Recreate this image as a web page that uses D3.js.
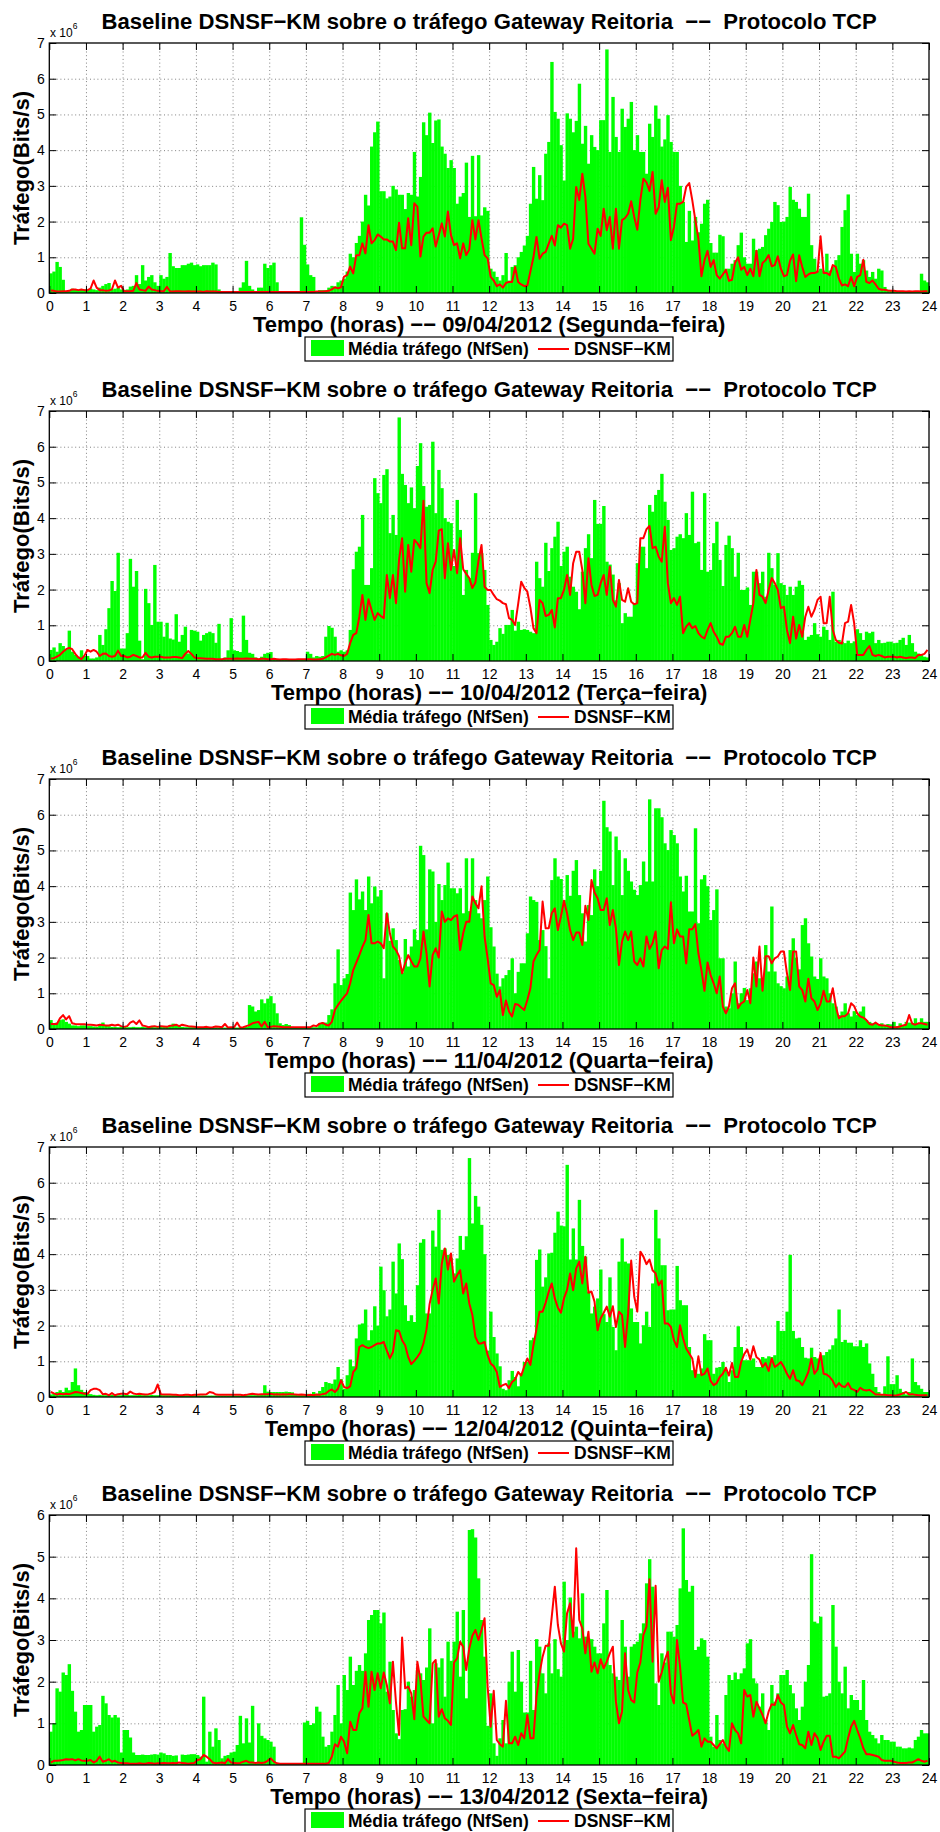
<!DOCTYPE html>
<html>
<head>
<meta charset="utf-8">
<script src="https://cdn.jsdelivr.net/npm/d3@7"></script>
<style>
  body { margin: 0; background: #fff; }
  svg { display: block; }
  text { font-family: "Liberation Sans", Arial, Helvetica, sans-serif; }
</style>
</head>
<body>
<svg id="chart"></svg>
<script>
// hour ticks and panel labels
const hourTicks = d3.range(0, 25);
const titleText = "Baseline DSNSF\u2212KM sobre o tr\u00e1fego Gateway Reitoria  \u2212\u2212  Protocolo TCP";
const dayLabels = [
  "09/04/2012 (Segunda\u2212feira)",
  "10/04/2012 (Ter\u00e7a\u2212feira)",
  "11/04/2012 (Quarta\u2212feira)",
  "12/04/2012 (Quinta\u2212feira)",
  "13/04/2012 (Sexta\u2212feira)"
];
const yMaxes = [7, 7, 7, 7, 6];  // in units of 10^6 bits/s

// NfSen average traffic, one value every 5 minutes (12 per hour), x 10^6
const bars1 = [
  0.55,0.6,0.87,0.73,0.37,0.05,0.08,0.12,0.1,0.08,0.1,0.1,
  0.1,0.12,0.1,0.08,0.15,0.2,0.25,0.28,0.1,0.12,0.15,0.1,
  0.08,0.1,0.18,0.2,0.5,0.25,0.78,0.35,0.45,0.5,0.3,0.2,
  0.5,0.4,0.45,1.12,0.75,0.7,0.7,0.78,0.78,0.82,0.85,0.78,
  0.8,0.75,0.78,0.78,0.78,0.85,0.8,0.1,0.02,0.02,0.02,0.02,
  0.02,0.02,0.15,0.3,0.9,0.2,0.1,0.05,0.15,0.15,0.82,0.7,
  0.78,0.85,0.3,0.02,0.02,0.02,0.02,0.02,0.02,0.02,2.12,1.35,
  0.8,0.5,0.45,0.02,0.08,0.08,0.08,0.15,0.2,0.18,0.3,0.35,
  0.4,0.6,1.1,1.0,1.4,1.6,2.0,2.75,2.45,4.1,4.5,4.8,
  2.85,2.85,2.65,2.7,3.0,2.9,2.75,2.75,2.35,2.8,2.75,3.95,
  2.7,3.25,4.78,4.42,5.05,4.2,4.83,4.86,4.1,3.9,3.5,3.72,
  3.5,2.5,2.7,2.8,3.65,2.13,3.84,2.15,3.86,2.17,2.4,2.3,
  0.68,0.6,0.45,0.35,0.5,1.12,0.35,0.73,0.78,1.0,1.15,1.33,
  1.6,2.5,3.53,2.64,3.3,2.6,3.9,4.23,6.47,5.07,4.88,4.14,
  3.15,5.03,4.88,4.5,4.82,5.86,4.18,4.68,3.62,4.42,4.09,4.0,
  4.84,4.84,6.82,3.95,5.49,4.37,3.95,5.16,4.65,4.88,5.35,4.0,
  4.42,3.95,3.95,3.34,4.74,4.37,5.25,4.88,4.1,4.3,4.98,4.23,
  3.95,3.95,3.0,2.55,1.43,2.3,1.47,2.13,1.7,1.94,2.5,2.61,
  1.4,1.13,1.13,1.63,1.59,0.68,0.68,0.82,0.92,1.34,1.69,1.0,
  0.82,0.82,1.52,1.2,1.24,1.29,1.62,1.8,1.99,2.55,2.46,1.99,
  2.0,2.13,2.97,2.61,2.55,2.36,2.13,2.13,2.78,1.34,0.96,0.63,
  0.68,0.63,1.1,0.63,0.73,0.92,1.06,1.85,2.32,2.76,1.1,0.59,
  1.1,0.82,0.92,0.63,0.45,0.59,0.4,0.68,0.63,0.17,0.09,0.06,
  0.05,0.05,0.05,0.05,0.04,0.04,0.04,0.04,0.05,0.54,0.35,0.3
];
const bars2 = [
  0.31,0.38,0.26,0.5,0.42,0.33,0.85,0.26,0.17,0.12,0.3,0.14,
  0.14,0.07,0.07,0.1,0.73,0.45,0.89,1.48,2.24,1.96,3.03,0.35,
  0.35,0.78,2.86,2.08,2.52,0.57,0.05,2.02,1.62,1.01,2.69,1.1,
  1.1,0.68,1.07,0.63,0.6,1.31,0.54,0.73,0.96,0.21,0.87,0.85,
  0.82,0.57,0.73,0.78,0.82,0.78,0.51,1.04,0.05,0.1,0.3,1.2,
  0.3,0.28,0.25,1.27,0.59,0.23,0.2,0.1,0.06,0.12,0.2,0.23,
  0.25,0.05,0.04,0.03,0.03,0.03,0.03,0.03,0.03,0.03,0.03,0.03,
  0.26,0.2,0.1,0.14,0.12,0.14,0.68,0.98,0.93,0.68,0.26,0.3,
  0.26,0.3,0.87,2.57,3.06,3.2,4.09,2.13,2.13,2.6,5.12,4.7,
  4.42,5.21,5.37,3.58,4.09,3.53,6.82,5.24,4.93,4.42,4.86,4.28,
  5.46,6.1,4.9,4.32,4.37,6.14,4.14,5.35,4.84,4.0,3.9,3.86,
  2.66,4.51,3.67,1.85,2.55,2.32,3.03,4.7,3.02,3.02,2.55,1.57,
  0.59,0.45,0.54,0.92,0.76,1.01,1.01,1.43,0.85,1.1,0.87,0.89,
  0.87,0.82,0.78,2.78,2.32,2.08,3.31,2.52,3.16,3.48,3.9,2.66,
  3.06,3.2,2.36,2.08,1.94,1.45,2.5,3.16,3.55,2.88,4.51,3.84,
  3.84,4.34,2.78,2.7,2.42,1.7,2.18,1.06,1.34,1.24,1.24,1.62,
  2.74,3.2,3.2,2.6,4.37,4.18,4.65,4.79,5.24,4.46,3.95,3.11,
  3.16,3.48,3.55,3.44,4.14,3.53,4.74,3.3,3.34,2.55,4.7,2.5,
  2.55,3.3,3.9,2.83,2.1,3.25,3.51,3.16,2.36,3.03,1.99,1.99,
  2.06,1.57,2.5,2.5,2.18,2.5,1.8,3.03,2.6,2.13,3.02,2.18,
  2.13,1.85,2.08,1.85,2.08,2.25,2.13,0.59,0.68,0.73,1.06,0.75,
  0.68,0.96,0.87,0.59,1.94,0.54,0.59,0.54,0.5,0.57,0.5,0.55,
  0.89,0.78,0.59,0.82,0.78,0.82,0.5,0.59,0.5,0.51,0.54,0.54,
  0.5,0.51,0.59,0.65,0.45,0.73,0.5,0.26,0.21,0.17,0.12,0.1
];
const bars3 = [
  0.25,0.12,0.18,0.25,0.27,0.2,0.15,0.1,0.1,0.08,0.1,0.1,
  0.08,0.08,0.07,0.06,0.12,0.18,0.1,0.08,0.06,0.06,0.05,0.06,
  0.06,0.05,0.05,0.06,0.05,0.05,0.06,0.05,0.05,0.06,0.05,0.05,
  0.06,0.07,0.08,0.1,0.15,0.12,0.08,0.06,0.05,0.05,0.05,0.05,
  0.04,0.04,0.04,0.04,0.04,0.04,0.04,0.04,0.04,0.04,0.04,0.04,
  0.04,0.04,0.04,0.04,0.06,0.67,0.63,0.49,0.53,0.83,0.72,0.85,
  0.92,0.72,0.44,0.16,0.11,0.14,0.11,0.06,0.05,0.05,0.05,0.05,
  0.05,0.05,0.05,0.05,0.16,0.18,0.18,0.39,0.55,1.28,2.23,1.23,
  1.42,1.54,3.82,3.33,4.19,3.63,3.85,3.33,4.27,3.52,3.99,3.71,
  3.89,1.42,3.24,2.47,2.82,2.49,1.93,1.58,2.52,1.75,2.31,2.79,
  2.49,5.13,4.87,2.79,4.47,4.41,3.0,4.06,3.61,4.03,4.66,3.94,
  3.94,3.8,3.94,3.24,4.78,3.3,4.78,3.61,3.24,3.1,3.61,4.27,
  2.85,2.31,1.55,1.19,1.42,1.51,1.65,1.98,1.0,1.6,1.84,1.84,
  2.68,3.71,3.61,3.56,2.49,2.77,2.32,1.42,4.17,4.78,4.27,4.2,
  3.61,4.31,3.73,4.43,4.73,3.75,3.24,2.45,3.47,3.19,4.47,4.0,
  4.43,6.39,5.65,5.53,4.03,5.39,5.01,3.75,4.78,4.43,4.13,3.9,
  3.75,4.03,4.69,4.13,6.43,4.13,6.18,6.18,5.93,5.2,5.01,5.57,
  5.43,5.2,4.27,3.85,4.29,3.29,3.29,5.62,2.96,4.19,4.31,4.0,
  3.05,3.33,3.91,1.98,1.98,0.63,0.58,1.0,1.89,0.72,1.0,1.15,
  0.81,1.14,1.56,1.89,1.42,1.3,2.35,1.61,3.43,1.61,1.28,1.2,
  1.14,1.47,2.21,2.54,2.0,1.67,2.91,3.1,2.4,2.03,1.47,1.4,
  1.98,1.47,1.42,1.0,0.72,0.63,0.39,0.49,0.72,0.44,0.35,0.5,
  0.39,0.49,0.63,0.25,0.2,0.16,0.14,0.11,0.16,0.11,0.14,0.13,
  0.2,0.08,0.16,0.11,0.2,0.18,0.16,0.3,0.16,0.3,0.2,0.2
];
const bars4 = [
  0.07,0.09,0.14,0.19,0.14,0.26,0.19,0.42,0.8,0.33,0.2,0.14,
  0.1,0.08,0.06,0.05,0.06,0.05,0.05,0.06,0.06,0.05,0.05,0.05,
  0.06,0.06,0.05,0.05,0.05,0.06,0.05,0.05,0.05,0.06,0.05,0.05,
  0.06,0.05,0.05,0.05,0.05,0.05,0.05,0.06,0.05,0.05,0.05,0.05,
  0.04,0.04,0.04,0.04,0.04,0.04,0.04,0.04,0.04,0.04,0.04,0.04,
  0.04,0.04,0.04,0.04,0.05,0.05,0.05,0.05,0.05,0.06,0.33,0.15,
  0.14,0.14,0.14,0.14,0.14,0.15,0.14,0.13,0.07,0.05,0.05,0.05,
  0.09,0.07,0.14,0.09,0.17,0.28,0.42,0.39,0.37,0.49,0.84,0.5,
  0.23,0.61,1.05,0.86,1.64,2.03,2.06,2.45,1.59,1.87,2.54,2.0,
  3.65,2.99,2.26,2.45,3.79,2.9,4.3,3.86,2.57,2.13,2.29,2.1,
  3.13,4.32,4.42,2.34,2.34,4.66,4.21,5.24,4.12,4.16,3.98,3.9,
  3.46,3.88,4.51,4.12,4.5,6.69,4.86,5.63,5.33,4.82,4.0,1.3,
  2.39,1.68,1.22,0.86,0.23,0.19,0.47,0.73,0.56,0.3,0.65,0.98,
  0.98,1.59,1.66,3.84,4.13,3.09,3.35,4.02,4.04,4.6,5.19,4.8,
  4.78,6.5,3.85,4.72,3.85,5.52,4.23,3.93,2.95,2.34,2.53,2.76,
  3.57,2.32,2.1,3.35,1.96,1.31,3.79,4.44,3.79,3.74,2.48,2.1,
  2.1,1.5,2.01,2.39,1.96,3.18,5.24,4.44,3.69,3.69,2.43,2.45,
  2.45,3.67,2.71,2.57,2.57,1.4,0.75,0.75,0.65,0.8,1.76,1.59,
  1.59,0.65,0.82,0.84,0.98,0.75,0.42,0.75,1.4,1.98,1.4,1.03,
  1.03,1.03,1.08,0.84,0.84,1.12,1.08,1.14,1.12,1.17,2.13,1.85,
  1.85,2.39,3.98,1.85,1.64,1.66,1.4,1.1,1.08,1.38,1.12,1.08,
  1.08,1.17,1.26,1.33,1.45,1.64,2.45,1.54,1.6,1.52,1.52,1.42,
  1.42,1.59,1.4,1.5,0.94,0.65,0.28,0.14,0.07,0.3,1.14,0.36,
  0.36,0.61,0.23,0.14,0.07,0.14,1.08,0.42,0.33,0.23,0.14,0.14
];
const bars5 = [
  0.8,1.0,1.84,1.76,2.22,2.16,2.42,1.78,1.28,0.8,0.84,1.44,
  1.44,1.44,0.8,0.92,0.96,1.66,1.48,1.2,1.14,1.2,1.14,0.3,
  0.84,0.84,0.66,0.3,0.24,0.24,0.25,0.24,0.24,0.25,0.26,0.25,
  0.3,0.28,0.24,0.24,0.22,0.23,0.03,0.25,0.24,0.25,0.26,0.26,
  0.24,0.2,1.64,0.08,0.8,0.44,0.88,0.6,0.16,0.22,0.24,0.3,
  0.32,0.48,1.18,0.52,1.12,0.54,1.42,0.04,1.0,0.7,0.64,0.6,
  0.56,0.44,0.03,0.02,0.02,0.02,0.02,0.02,0.02,0.02,0.02,1.02,
  1.06,0.96,1.0,1.4,1.28,0.68,0.44,0.48,0.8,1.2,1.92,1.0,
  2.16,1.8,2.6,1.92,2.26,2.4,2.26,2.68,3.48,3.6,3.72,3.72,
  3.4,3.66,1.76,2.48,1.32,0.76,0.62,1.32,1.34,2.0,1.64,1.8,
  2.28,2.2,2.04,2.34,3.28,1.0,2.44,2.34,2.56,1.64,2.96,2.5,
  2.96,3.68,2.12,3.72,1.6,5.64,5.66,5.46,4.48,3.48,2.6,0.94,
  1.72,0.52,0.22,0.64,1.08,0.52,2.0,2.72,1.76,2.76,2.0,1.26,
  1.26,2.5,1.32,3.02,2.84,2.2,1.72,2.92,2.2,3.02,2.3,2.12,
  4.4,3.0,4.02,3.2,3.32,3.04,4.12,3.08,3.04,3.02,2.84,2.68,
  2.68,3.4,4.2,2.4,2.2,2.12,2.04,3.48,2.84,2.12,2.84,2.9,
  2.96,3.16,3.4,4.36,4.94,4.28,1.96,1.44,2.68,2.46,3.2,3.2,
  3.08,3.36,4.24,5.68,4.44,4.16,4.3,2.76,2.84,3.04,3.0,2.6,
  0.68,0.44,1.2,0.6,0.52,1.68,2.16,2.04,2.22,2.06,2.2,2.32,
  2.92,3.02,2.08,1.96,1.4,1.72,1.08,0.84,1.92,1.52,1.72,2.16,
  2.16,2.28,1.92,1.72,1.36,1.08,1.4,2.0,2.4,5.06,3.44,3.4,
  3.56,1.64,1.66,1.72,3.84,2.84,2.0,1.72,2.36,1.36,1.68,1.56,
  1.56,1.32,2.04,1.08,0.8,0.72,0.64,0.52,0.72,0.6,0.6,0.56,
  0.56,0.44,0.44,0.4,0.4,0.42,0.4,0.6,0.68,0.84,0.76,0.76
];

// DSNSF-KM baseline, 12 points per hour, x 10^6
const dsnsf1 = [
  0.07,0.06,0.04,0.04,0.05,0.05,0.06,0.1,0.1,0.08,0.1,0.08,
  0.08,0.12,0.35,0.15,0.08,0.08,0.06,0.07,0.1,0.35,0.15,0.2,
  0.05,0.05,0.05,0.06,0.28,0.1,0.08,0.06,0.18,0.1,0.08,0.06,
  0.05,0.05,0.17,0.05,0.04,0.05,0.05,0.04,0.04,0.05,0.04,0.04,
  0.04,0.04,0.03,0.05,0.04,0.04,0.04,0.03,0.03,0.03,0.03,0.03,
  0.03,0.03,0.03,0.03,0.03,0.03,0.03,0.03,0.03,0.03,0.03,0.03,
  0.03,0.03,0.03,0.03,0.03,0.03,0.03,0.03,0.03,0.03,0.03,0.03,
  0.03,0.03,0.03,0.04,0.04,0.04,0.05,0.06,0.1,0.16,0.13,0.16,
  0.46,0.5,0.74,0.55,1.06,1.06,1.39,1.11,1.9,1.39,1.48,1.64,
  1.58,1.5,1.5,1.44,1.44,1.2,1.97,1.25,1.25,2.09,1.34,2.51,
  2.42,1.02,1.58,1.69,1.69,1.81,1.3,1.62,1.95,1.58,2.28,1.62,
  1.34,1.39,0.97,1.39,1.06,1.22,2.04,1.5,2.04,1.53,1.06,0.97,
  0.45,0.35,0.19,0.24,0.15,0.28,0.31,0.31,0.73,0.31,0.24,0.19,
  0.21,0.6,1.0,1.57,0.96,1.1,1.15,1.38,1.6,1.33,1.9,1.83,
  1.94,1.9,1.24,1.52,2.97,2.6,3.34,2.69,1.38,1.24,1.1,1.8,
  1.6,2.36,1.76,2.13,1.24,2.36,1.24,2.04,2.1,2.22,2.57,2.13,
  1.77,2.6,3.2,3.1,2.86,3.39,2.22,2.4,3.16,2.55,2.95,1.48,
  1.85,2.5,2.5,2.55,2.97,3.08,2.6,2.04,1.52,0.47,0.92,1.18,
  0.73,0.92,0.5,0.4,0.52,0.65,0.34,0.37,0.84,1.0,0.65,0.73,
  0.5,0.68,0.47,1.18,0.47,0.84,0.92,1.06,0.75,0.78,1.03,0.68,
  0.47,0.5,0.9,1.08,0.33,1.06,0.73,0.45,0.52,0.56,0.56,0.59,
  1.59,0.56,0.56,0.5,0.78,0.73,0.4,0.21,0.24,0.19,0.45,0.19,
  0.45,0.5,0.93,0.31,0.28,0.35,0.24,0.12,0.09,0.09,0.07,0.06,
  0.06,0.05,0.05,0.05,0.04,0.05,0.04,0.05,0.05,0.04,0.05,0.05
];
const dsnsf2 = [
  0.07,0.08,0.12,0.17,0.26,0.33,0.37,0.33,0.2,0.1,0.05,0.15,
  0.31,0.26,0.31,0.26,0.14,0.2,0.21,0.14,0.12,0.14,0.29,0.14,
  0.14,0.1,0.12,0.17,0.14,0.1,0.1,0.23,0.12,0.1,0.12,0.12,
  0.12,0.1,0.1,0.1,0.11,0.11,0.1,0.08,0.2,0.28,0.2,0.1,
  0.08,0.08,0.07,0.06,0.06,0.06,0.05,0.05,0.05,0.06,0.06,0.06,
  0.06,0.07,0.06,0.06,0.07,0.06,0.06,0.06,0.05,0.06,0.06,0.05,
  0.05,0.06,0.05,0.04,0.05,0.05,0.04,0.04,0.04,0.05,0.05,0.05,
  0.05,0.05,0.04,0.04,0.05,0.06,0.1,0.15,0.2,0.17,0.2,0.16,
  0.14,0.2,0.5,0.73,0.78,1.24,1.85,1.15,1.73,1.43,1.15,1.34,
  1.26,1.2,2.41,1.76,2.41,1.62,2.83,3.44,1.94,3.25,2.5,3.39,
  3.3,3.16,4.49,2.18,1.9,2.55,2.78,3.65,3.69,2.32,3.3,2.55,
  3.11,2.46,3.44,2.57,2.44,2.32,2.04,2.2,2.8,3.25,2.08,1.99,
  1.99,1.85,1.73,1.69,1.62,1.59,1.2,1.15,1.01,1.6,2.22,2.05,
  1.94,1.5,0.92,0.78,1.71,1.62,1.26,1.29,1.43,0.94,1.76,1.76,
  1.99,2.41,1.85,2.74,3.06,3.06,2.55,1.62,2.88,2.13,1.82,1.85,
  2.18,2.41,1.85,2.64,1.71,1.52,2.27,1.71,1.66,2.04,1.66,1.59,
  1.62,3.44,3.44,3.69,3.78,3.16,3.2,2.92,2.78,3.76,2.18,1.62,
  1.76,1.57,1.8,0.78,0.96,1.06,0.92,0.98,0.78,0.68,0.63,0.87,
  1.06,0.82,0.68,0.49,0.45,0.68,0.68,0.78,0.96,0.68,0.68,1.01,
  0.68,1.15,1.62,2.55,1.85,1.8,1.62,1.99,2.32,2.18,1.99,1.48,
  1.52,0.87,0.5,1.24,0.63,1.01,0.68,1.24,1.52,1.24,1.43,1.71,
  1.8,1.06,1.06,1.8,0.87,0.59,0.51,0.49,1.06,1.1,1.57,1.06,
  0.17,0.17,0.17,0.31,0.42,0.17,0.14,0.17,0.14,0.1,0.12,0.12,
  0.12,0.1,0.12,0.1,0.08,0.1,0.1,0.08,0.17,0.17,0.2,0.31
];
const dsnsf3 = [
  0.14,0.14,0.14,0.3,0.39,0.27,0.36,0.16,0.14,0.13,0.13,0.13,
  0.12,0.12,0.11,0.1,0.12,0.11,0.1,0.1,0.12,0.1,0.12,0.08,
  0.06,0.08,0.18,0.22,0.14,0.24,0.1,0.08,0.05,0.07,0.08,0.06,
  0.08,0.07,0.06,0.09,0.1,0.12,0.08,0.12,0.1,0.08,0.07,0.06,
  0.05,0.05,0.05,0.06,0.04,0.05,0.07,0.06,0.05,0.14,0.04,0.05,
  0.05,0.18,0.04,0.05,0.08,0.11,0.16,0.18,0.2,0.07,0.2,0.05,
  0.06,0.08,0.07,0.06,0.05,0.05,0.05,0.05,0.05,0.05,0.05,0.05,
  0.05,0.05,0.1,0.08,0.15,0.17,0.12,0.1,0.2,0.53,0.67,0.79,
  0.9,1.0,1.28,1.65,1.86,2.07,2.3,2.49,3.19,2.4,2.4,2.45,
  2.4,2.26,3.24,2.68,2.31,2.21,2.04,1.56,1.84,2.07,1.9,1.75,
  1.75,1.98,2.73,2.12,1.19,2.07,2.26,2.0,3.29,3.0,3.1,3.05,
  3.15,3.19,2.21,2.68,3.0,3.0,3.71,3.52,3.38,4.0,2.59,1.98,
  1.28,1.23,0.9,1.09,0.39,0.8,0.49,0.35,0.7,0.68,0.6,0.53,
  0.81,1.14,1.89,2.07,2.21,3.57,2.82,2.82,3.24,3.38,2.77,3.15,
  3.59,3.24,2.77,2.49,2.7,2.7,2.35,3.45,3.05,4.17,3.82,3.66,
  3.33,3.33,3.66,2.91,3.33,2.82,1.79,2.45,2.73,2.49,2.73,1.89,
  1.79,1.98,1.75,2.59,2.24,2.4,2.73,1.7,2.21,2.31,2.24,3.55,
  2.4,2.79,2.59,2.59,1.84,2.79,2.79,2.94,2.12,1.65,1.07,1.86,
  1.51,1.28,1.0,1.47,0.63,0.44,0.63,1.14,1.28,0.58,0.72,0.77,
  1.09,0.72,2.0,1.19,2.31,1.07,2.04,2.04,1.84,1.98,2.03,2.17,
  2.17,1.56,1.09,2.17,2.17,1.19,1.09,0.77,1.41,0.86,0.77,0.53,
  0.72,1.07,0.77,0.77,1.14,0.63,0.3,0.36,0.36,0.44,0.72,0.64,
  0.44,0.35,0.32,0.25,0.14,0.12,0.18,0.12,0.1,0.1,0.08,0.05,
  0.05,0.05,0.07,0.1,0.12,0.39,0.15,0.12,0.16,0.16,0.14,0.12
];
const dsnsf4 = [
  0.14,0.1,0.07,0.09,0.08,0.09,0.08,0.11,0.14,0.13,0.11,0.09,
  0.09,0.19,0.23,0.23,0.19,0.08,0.09,0.05,0.11,0.05,0.08,0.09,
  0.09,0.08,0.15,0.1,0.08,0.09,0.08,0.07,0.08,0.1,0.14,0.35,
  0.08,0.07,0.07,0.07,0.06,0.06,0.05,0.05,0.06,0.06,0.05,0.06,
  0.06,0.07,0.07,0.08,0.14,0.12,0.07,0.06,0.06,0.06,0.06,0.06,
  0.06,0.06,0.06,0.05,0.06,0.08,0.09,0.08,0.07,0.08,0.08,0.08,
  0.09,0.07,0.08,0.07,0.08,0.07,0.08,0.08,0.07,0.06,0.07,0.06,
  0.05,0.06,0.05,0.07,0.06,0.08,0.1,0.17,0.21,0.14,0.23,0.47,
  0.28,0.25,0.3,0.7,0.8,1.4,1.45,1.4,1.37,1.4,1.45,1.5,
  1.5,1.54,1.3,1.08,1.26,1.87,1.85,1.59,1.45,1.12,0.92,1.01,
  1.12,1.25,1.5,1.9,2.6,3.0,3.32,2.62,3.74,4.16,3.57,4.02,
  3.23,3.41,3.55,2.9,3.18,2.62,2.3,1.68,1.5,1.5,1.54,1.17,
  0.94,0.86,0.7,0.28,0.33,0.37,0.25,0.42,0.49,0.7,0.6,0.86,
  1.08,0.9,1.45,1.9,2.39,2.39,2.64,2.95,3.18,2.76,2.5,2.36,
  2.76,3.0,3.46,2.99,3.6,3.79,3.18,3.93,2.92,2.95,2.67,1.87,
  2.2,2.36,2.53,2.25,2.54,1.96,2.39,2.3,1.4,2.34,3.82,2.81,
  2.39,4.07,3.93,3.72,3.85,3.55,3.46,3.13,3.26,2.06,2.06,1.96,
  1.59,1.4,2.01,1.64,1.36,1.22,1.08,0.56,1.14,0.61,0.65,0.8,
  0.45,0.33,0.39,0.56,0.65,0.82,0.6,0.95,0.56,0.56,0.98,1.2,
  1.33,1.05,1.42,1.12,1.05,0.84,0.95,0.73,1.08,0.84,0.9,0.98,
  0.84,0.65,0.51,0.75,0.47,0.45,0.33,0.5,0.7,1.08,0.65,0.77,
  1.23,0.65,0.63,0.56,0.45,0.28,0.39,0.3,0.28,0.39,0.23,0.2,
  0.14,0.26,0.2,0.18,0.2,0.14,0.07,0.07,0.06,0.06,0.05,0.05,
  0.04,0.05,0.07,0.1,0.14,0.07,0.08,0.06,0.05,0.05,0.05,0.05
];
const dsnsf5 = [
  0.06,0.1,0.1,0.11,0.12,0.14,0.13,0.14,0.11,0.14,0.11,0.1,
  0.1,0.12,0.06,0.1,0.2,0.08,0.1,0.14,0.08,0.1,0.06,0.05,
  0.04,0.04,0.03,0.03,0.03,0.04,0.03,0.03,0.05,0.04,0.03,0.04,
  0.04,0.05,0.04,0.04,0.05,0.04,0.06,0.05,0.04,0.03,0.04,0.05,
  0.12,0.14,0.24,0.2,0.14,0.06,0.04,0.05,0.06,0.04,0.14,0.06,
  0.05,0.04,0.05,0.08,0.1,0.06,0.06,0.05,0.06,0.05,0.06,0.1,
  0.16,0.08,0.04,0.03,0.03,0.03,0.03,0.03,0.03,0.03,0.03,0.03,
  0.03,0.03,0.03,0.03,0.03,0.03,0.03,0.05,0.2,0.5,0.44,0.68,
  0.56,0.28,1.04,0.84,0.84,1.24,1.36,2.24,1.4,2.24,1.8,2.2,
  1.84,2.22,1.92,1.48,2.48,1.5,0.72,3.06,1.84,1.88,1.72,1.1,
  2.48,2.04,1.16,1.08,1.0,2.44,2.52,1.16,1.34,1.12,1.06,0.96,
  2.46,2.56,2.96,2.84,2.28,2.8,3.1,3.24,3.0,3.24,3.52,1.88,
  0.92,1.78,0.6,0.5,0.44,1.54,0.52,0.52,0.68,0.48,0.76,0.64,
  1.2,0.64,0.64,1.64,2.2,2.6,2.86,2.86,3.56,4.28,3.36,2.92,
  2.72,3.64,3.88,3.08,5.2,3.48,3.28,2.68,3.2,2.24,2.46,2.2,
  2.54,2.32,2.48,2.68,2.84,1.52,1.0,1.28,2.68,1.8,1.56,1.5,
  2.22,2.46,3.12,3.32,4.46,2.48,4.3,2.0,2.22,2.52,2.72,1.72,
  1.48,3.0,2.36,1.5,1.46,1.08,0.7,0.76,0.84,0.44,0.64,0.56,
  0.56,0.48,0.4,0.5,0.6,0.44,0.34,1.0,0.84,0.76,0.52,1.8,
  1.64,1.68,1.16,1.52,1.36,1.2,1.0,1.28,1.46,1.44,1.68,1.5,
  1.44,0.92,0.76,0.96,0.72,0.5,0.48,0.4,0.8,0.48,0.76,0.65,
  0.36,0.56,0.7,0.7,0.2,0.2,0.16,0.24,0.32,0.64,0.92,1.06,
  0.84,0.64,0.4,0.26,0.26,0.24,0.22,0.2,0.12,0.1,0.1,0.1,
  0.08,0.06,0.05,0.05,0.05,0.06,0.06,0.1,0.14,0.1,0.08,0.1
];

const panels = [
  [bars1, dsnsf1], [bars2, dsnsf2], [bars3, dsnsf3], [bars4, dsnsf4], [bars5, dsnsf5]
];

const W = 940, H = 1832;
const svg = d3.select("#chart").attr("width", W).attr("height", H);
svg.append("rect").attr("width", W).attr("height", H).attr("fill", "#fff");

const left = 49.3, right = 929, plotH = 250, firstTop = 43, step = 368;
const x = d3.scaleLinear().domain([0, 24]).range([left, right]);
const barW = x(1 / 12) - x(0);
const green = "#00ff00", red = "#ff0000";

function styleAxis(g) {
  g.select(".domain").remove();
  g.selectAll(".tick line").attr("stroke", "#000").attr("stroke-width", 1);
  g.selectAll(".tick text")
    .attr("fill", "#000")
    .style("font-size", "14px")
    .style("font-family", "'Liberation Sans', Arial, sans-serif");
}

function drawPanel(k, bars, dsnsf) {
  const top = firstTop + k * step, bottom = top + plotH;
  const y = d3.scaleLinear().domain([0, yMaxes[k]]).range([bottom, top]);
  const yTicks = d3.range(0, yMaxes[k] + 1);
  const g = svg.append("g");

  // dotted grid
  g.append("g").attr("transform", `translate(0,${bottom})`)
    .call(d3.axisBottom(x).tickValues(hourTicks.slice(1, -1)).tickSize(-plotH).tickFormat(""))
    .call(a => { a.select(".domain").remove();
      a.selectAll("line").attr("stroke", "#808080").attr("stroke-dasharray", "1,2.7"); });
  g.append("g").attr("transform", `translate(${left},0)`)
    .call(d3.axisLeft(y).tickValues(yTicks.slice(1, -1)).tickSize(-(right - left)).tickFormat(""))
    .call(a => { a.select(".domain").remove();
      a.selectAll("line").attr("stroke", "#808080").attr("stroke-dasharray", "1,2.7"); });

  // bars
  g.append("g").selectAll("rect").data(bars).enter().append("rect")
    .attr("x", (d, i) => x(i / 12))
    .attr("y", d => y(d))
    .attr("width", barW + 0.35)
    .attr("height", d => bottom - y(d))
    .attr("fill", green);

  // baseline line
  const line = d3.line()
    .x((d, i) => x((i + 0.5) / 12))
    .y(d => y(d));
  g.append("path").datum(dsnsf)
    .attr("d", line)
    .attr("fill", "none")
    .attr("stroke", red)
    .attr("stroke-width", 2)
    .attr("stroke-linejoin", "round");

  // axes with inward ticks on all four sides
  g.append("g").attr("transform", `translate(0,${bottom})`)
    .call(d3.axisBottom(x).tickValues(hourTicks).tickSizeInner(-7).tickSizeOuter(0).tickPadding(8))
    .call(styleAxis);
  g.append("g").attr("transform", `translate(0,${top})`)
    .call(d3.axisTop(x).tickValues(hourTicks).tickSizeInner(-7).tickSizeOuter(0).tickFormat(""))
    .call(styleAxis);
  g.append("g").attr("transform", `translate(${left},0)`)
    .call(d3.axisLeft(y).tickValues(yTicks).tickFormat(d3.format("d"))
      .tickSizeInner(-7).tickSizeOuter(0).tickPadding(4.5))
    .call(styleAxis);
  g.append("g").attr("transform", `translate(${right},0)`)
    .call(d3.axisRight(y).tickValues(yTicks).tickSizeInner(-7).tickSizeOuter(0).tickFormat(""))
    .call(styleAxis);

  g.append("rect")
    .attr("x", left).attr("y", top)
    .attr("width", right - left).attr("height", plotH)
    .attr("fill", "none").attr("stroke", "#000").attr("stroke-width", 1.3);

  // exponent label
  const ex = g.append("text").attr("x", left + 0.7).attr("y", top - 6.3)
    .style("font-size", "12px").attr("fill", "#000");
  ex.append("tspan").text("x 10");
  ex.append("tspan").attr("dy", -7.5).style("font-size", "8.5px").text("6");

  // title
  g.append("text")
    .attr("x", (left + right) / 2).attr("y", top - 14)
    .attr("text-anchor", "middle")
    .style("font-size", "22.1px").style("font-weight", "bold")
    .style("white-space", "pre")
    .text(titleText);

  // y label
  g.append("text")
    .attr("transform", `translate(28.5,${(top + bottom) / 2}) rotate(-90)`)
    .attr("text-anchor", "middle")
    .style("font-size", "22px").style("font-weight", "bold")
    .text("Tr\u00e1fego(Bits/s)");

  // x label
  g.append("text")
    .attr("x", (left + right) / 2).attr("y", bottom + 38.7)
    .attr("text-anchor", "middle")
    .style("font-size", "22px").style("font-weight", "bold")
    .text("Tempo (horas) \u2212\u2212 " + dayLabels[k]);

  // legend
  const ly = bottom + 44;
  const lg = g.append("g");
  lg.append("rect").attr("x", 305).attr("y", ly).attr("width", 368).attr("height", 24)
    .attr("fill", "#fff").attr("stroke", "#000").attr("stroke-width", 1.2);
  lg.append("rect").attr("x", 311).attr("y", ly + 3).attr("width", 33).attr("height", 16)
    .attr("fill", green);
  lg.append("text").attr("x", 348).attr("y", ly + 18)
    .style("font-size", "17.5px").style("font-weight", "bold")
    .text("M\u00e9dia tr\u00e1fego (NfSen)");
  lg.append("line").attr("x1", 538).attr("x2", 569).attr("y1", ly + 12).attr("y2", ly + 12)
    .attr("stroke", red).attr("stroke-width", 2);
  lg.append("text").attr("x", 574).attr("y", ly + 18)
    .style("font-size", "17.5px").style("font-weight", "bold")
    .text("DSNSF\u2212KM");
}

panels.forEach((p, k) => drawPanel(k, p[0], p[1]));
</script>
</body>
</html>
